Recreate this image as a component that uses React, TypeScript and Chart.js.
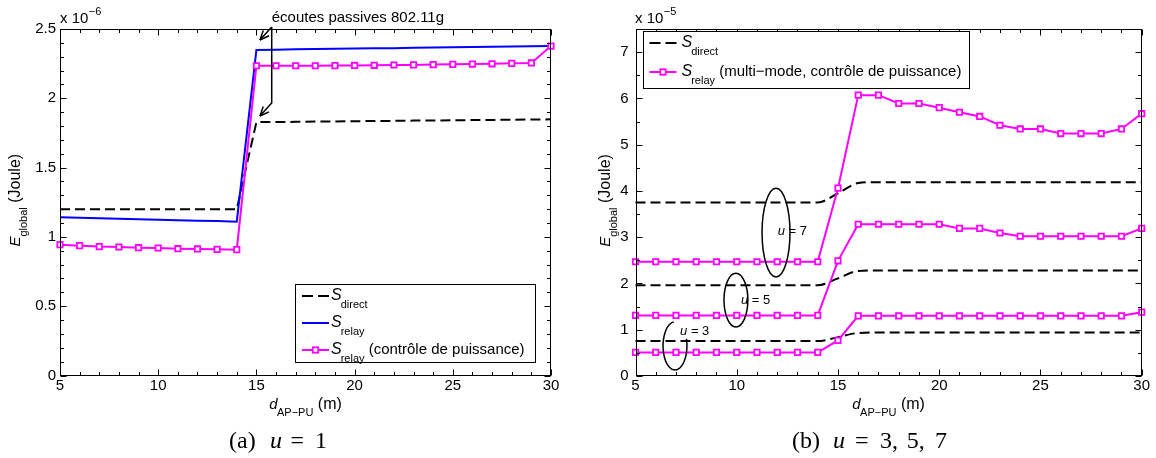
import React, { useEffect, useRef } from 'react';
import { Chart, registerables } from 'chart.js';

Chart.register(...registerables);

const SANS = "'Liberation Sans', Arial, Helvetica, sans-serif";
const SERIF = "'Liberation Serif', 'Times New Roman', serif";

// ---------------- data ----------------
const distances = [5, 6, 7, 8, 9, 10, 11, 12, 13, 14, 15, 16, 17, 18, 19, 20, 21, 22, 23, 24, 25, 26, 27, 28, 29, 30];

// (a) u = 1  (values x 1e-6 J)
const directU1 = [1.2, 1.2, 1.2, 1.2, 1.2, 1.2, 1.2, 1.2, 1.2, 1.2,
  1.828, 1.829, 1.83, 1.832, 1.833, 1.835, 1.836, 1.837, 1.839, 1.84, 1.841, 1.843, 1.844, 1.845, 1.847, 1.848];
const relayU1 = [1.141, 1.138, 1.134, 1.131, 1.127, 1.124, 1.12, 1.117, 1.114, 1.11,
  2.349, 2.351, 2.353, 2.355, 2.357, 2.359, 2.361, 2.362, 2.364, 2.366, 2.368, 2.37, 2.372, 2.373, 2.375, 2.377];
const relayPcU1 = [0.944, 0.937, 0.93, 0.927, 0.922, 0.92, 0.915, 0.913, 0.91, 0.908,
  2.235, 2.235, 2.235, 2.235, 2.236, 2.237, 2.238, 2.24, 2.241, 2.243, 2.245, 2.247, 2.249, 2.252, 2.255, 2.377];

// (b) u = 3, 5, 7  (values x 1e-5 J)
const directU3 = [0.754, 0.754, 0.754, 0.754, 0.754, 0.754, 0.754, 0.754, 0.754, 0.754,
  0.84, 0.93, 0.94, 0.94, 0.94, 0.94, 0.94, 0.94, 0.94, 0.94, 0.94, 0.94, 0.94, 0.94, 0.94, 0.94];
const directU5 = [1.96, 1.96, 1.96, 1.96, 1.96, 1.96, 1.96, 1.96, 1.96, 1.96,
  2.11, 2.27, 2.28, 2.28, 2.28, 2.28, 2.28, 2.28, 2.28, 2.28, 2.28, 2.28, 2.28, 2.28, 2.28, 2.28];
const directU7 = [3.75, 3.75, 3.75, 3.75, 3.75, 3.75, 3.75, 3.75, 3.75, 3.75,
  3.95, 4.17, 4.19, 4.19, 4.19, 4.19, 4.19, 4.19, 4.19, 4.19, 4.19, 4.19, 4.19, 4.19, 4.19, 4.19];
const relayU3 = [0.51, 0.51, 0.51, 0.51, 0.51, 0.51, 0.51, 0.51, 0.51, 0.51,
  0.77, 1.3, 1.3, 1.3, 1.3, 1.3, 1.3, 1.3, 1.3, 1.3, 1.3, 1.3, 1.3, 1.3, 1.3, 1.38];
const relayU5 = [1.31, 1.31, 1.31, 1.31, 1.31, 1.31, 1.31, 1.31, 1.31, 1.31,
  2.49, 3.28, 3.28, 3.28, 3.28, 3.28, 3.19, 3.19, 3.09, 3.02, 3.02, 3.02, 3.02, 3.02, 3.02, 3.19];
const relayU7 = [2.47, 2.47, 2.47, 2.47, 2.47, 2.47, 2.47, 2.47, 2.47, 2.47,
  4.06, 6.07, 6.07, 5.89, 5.89, 5.8, 5.7, 5.61, 5.42, 5.34, 5.34, 5.24, 5.24, 5.24, 5.34, 5.67];

const xTicks = [5, 10, 15, 20, 25, 30];
const xTickLabels = ['5', '10', '15', '20', '25', '30'];
const yTicksA = [0, 0.5, 1, 1.5, 2, 2.5];
const yTickLabelsA = ['0', '0.5', '1', '1.5', '2', '2.5'];
const yTicksB = [0, 1, 2, 3, 4, 5, 6, 7];
const yTickLabelsB = ['0', '1', '2', '3', '4', '5', '6', '7'];

const MAGENTA = '#ff00ff';
const BLUE = '#0000ff';

// ---------------- helpers ----------------
type Part = { t: string; font: string; dy?: number; dx?: number };

function measureParts(ctx: CanvasRenderingContext2D, parts: Part[]) {
  let w = 0;
  for (const p of parts) {
    ctx.font = p.font;
    w += (p.dx || 0) + ctx.measureText(p.t).width;
  }
  return w;
}

function drawParts(ctx: CanvasRenderingContext2D, parts: Part[], x: number, y: number) {
  let cx = x;
  for (const p of parts) {
    ctx.font = p.font;
    cx += p.dx || 0;
    ctx.fillText(p.t, cx, y + (p.dy || 0));
    cx += ctx.measureText(p.t).width;
  }
  return cx;
}

const italic = (s: number) => `italic ${s}px ${SANS}`;
const plain = (s: number) => `${s}px ${SANS}`;

function drawFrame(chart: any, xMinor: number, xMajor: number, yMinor: number, yMajor: number) {
  const { ctx, chartArea: a, scales } = chart;
  const xs = scales.x;
  const ys = scales.y;
  ctx.save();
  ctx.strokeStyle = '#000';
  ctx.lineWidth = 1;
  ctx.setLineDash([]);
  const L = Math.round(a.left) + 0.5;
  const R = Math.round(a.right) - 0.5;
  const T = Math.round(a.top) + 0.5;
  const B = Math.round(a.bottom) - 0.5;
  ctx.strokeRect(L, T, R - L, B - T);
  ctx.beginPath();
  const nx = Math.round((xs.max - xs.min) / xMinor);
  for (let i = 0; i <= nx; i++) {
    const v = xs.min + i * xMinor;
    const r = v / xMajor;
    const major = Math.abs(r - Math.round(r)) < 1e-6;
    const len = major ? 6 : 3.5;
    const px = Math.round(xs.getPixelForValue(v)) + 0.5;
    ctx.moveTo(px, B); ctx.lineTo(px, B - len);
    ctx.moveTo(px, T); ctx.lineTo(px, T + len);
  }
  const ny = Math.round((ys.max - ys.min) / yMinor);
  for (let i = 0; i <= ny; i++) {
    const v = ys.min + i * yMinor;
    const r = v / yMajor;
    const major = Math.abs(r - Math.round(r)) < 1e-6;
    const len = major ? 6 : 3.5;
    const py = Math.round(ys.getPixelForValue(v)) + 0.5;
    ctx.moveTo(L, py); ctx.lineTo(L + len, py);
    ctx.moveTo(R, py); ctx.lineTo(R - len, py);
  }
  ctx.stroke();
  ctx.restore();
}

function drawYTitle(ctx: CanvasRenderingContext2D, xBase: number, yCenter: number) {
  const parts: Part[] = [
    { t: 'E', font: italic(15) },
    { t: 'global', font: plain(11), dy: 7, dx: 0 },
    { t: ' (Joule)', font: plain(16) },
  ];
  ctx.save();
  ctx.translate(xBase, yCenter);
  ctx.rotate(-Math.PI / 2);
  const w = measureParts(ctx, parts);
  drawParts(ctx, parts, -w / 2, 0);
  ctx.restore();
}

function drawXTitle(ctx: CanvasRenderingContext2D, xCenter: number, yBase: number) {
  const parts: Part[] = [
    { t: 'd', font: italic(15) },
    { t: 'AP\u2212PU', font: plain(11), dy: 6.5, dx: -0.5 },
    { t: ' (m)', font: plain(16) },
  ];
  const w = measureParts(ctx, parts);
  drawParts(ctx, parts, xCenter - w / 2, yBase);
}

type LegendEntry = { kind: 'dash' | 'solid' | 'marker'; color: string; sub: string; extra: string };

function drawLegend(ctx: CanvasRenderingContext2D, x: number, y: number, w: number, h: number, rows: number[], entries: LegendEntry[], sx: number) {
  ctx.save();
  ctx.fillStyle = '#fff';
  ctx.fillRect(x, y, w, h);
  ctx.strokeStyle = '#000';
  ctx.lineWidth = 1;
  ctx.strokeRect(Math.round(x) + 0.5, Math.round(y) + 0.5, Math.round(w), Math.round(h));
  entries.forEach((e, i) => {
    const ly = Math.round(y + rows[i]);
    ctx.strokeStyle = e.color;
    ctx.lineWidth = 2;
    ctx.setLineDash(e.kind === 'dash' ? [11, 5] : []);
    ctx.beginPath();
    ctx.moveTo(x + 7, ly);
    ctx.lineTo(x + 34, ly);
    ctx.stroke();
    ctx.setLineDash([]);
    if (e.kind === 'marker') {
      const mx = x + 20.5;
      ctx.fillStyle = '#fff';
      ctx.fillRect(mx - 2.7, ly - 2.7, 5.4, 5.4);
      ctx.lineWidth = 1.8;
      ctx.strokeRect(mx - 2.7, ly - 2.7, 5.4, 5.4);
    }
    ctx.fillStyle = '#000';
    drawParts(ctx, [
      { t: 'S', font: italic(16) },
      { t: e.sub, font: plain(11), dy: 8, dx: -1 },
      { t: e.extra, font: plain(15) },
    ], x + sx, ly + 3.5);
  });
  ctx.restore();
}

function drawArrow(ctx: CanvasRenderingContext2D, pts: [number, number][]) {
  ctx.beginPath();
  ctx.moveTo(pts[0][0], pts[0][1]);
  for (let i = 1; i < pts.length; i++) ctx.lineTo(pts[i][0], pts[i][1]);
  ctx.stroke();
  const [x2, y2] = pts[pts.length - 1];
  const [x1, y1] = pts[pts.length - 2];
  const ang = Math.atan2(y2 - y1, x2 - x1);
  ctx.beginPath();
  for (const s of [-1, 1]) {
    ctx.moveTo(x2, y2);
    ctx.lineTo(x2 - 10 * Math.cos(ang + s * 0.4), y2 - 10 * Math.sin(ang + s * 0.4));
  }
  ctx.stroke();
}

function buildOptions(p: { yWidth: number; xHeight: number; padRight: number; yMax: number; yTicks: number[]; yLabels: string[]; yPad: number }) {
  return {
    responsive: false,
    animation: false as const,
    devicePixelRatio: 1,
    events: [] as any[],
    layout: { padding: { left: 0, right: p.padRight, top: 29, bottom: 0 } },
    plugins: { legend: { display: false }, tooltip: { enabled: false }, title: { display: false } },
    scales: {
      x: {
        type: 'linear' as const,
        min: 5,
        max: 30,
        grid: { display: false, drawTicks: false },
        border: { display: false },
        afterBuildTicks: (s: any) => { s.ticks = xTicks.map((v) => ({ value: v })); },
        afterFit: (s: any) => { s.height = p.xHeight; },
        ticks: {
          color: '#000', padding: 1, maxRotation: 0, autoSkip: false,
          font: { family: SANS, size: 15 },
          callback: (v: any) => xTickLabels[xTicks.indexOf(v)] ?? '',
        },
      },
      y: {
        type: 'linear' as const,
        min: 0,
        max: p.yMax,
        grid: { display: false, drawTicks: false },
        border: { display: false },
        afterBuildTicks: (s: any) => { s.ticks = p.yTicks.map((v) => ({ value: v })); },
        afterFit: (s: any) => { s.width = p.yWidth; },
        ticks: {
          color: '#000', padding: p.yPad,
          font: { family: SANS, size: 15 },
          callback: (v: any) => p.yLabels[p.yTicks.indexOf(v)] ?? '',
        },
      },
    },
  };
}

const pts = (arr: number[]) => distances.map((x, i) => ({ x, y: arr[i] }));

const magentaStyle = {
  borderColor: MAGENTA, backgroundColor: MAGENTA, borderWidth: 2,
  pointStyle: 'rect', pointRadius: 3.8, pointBorderWidth: 1.8,
  pointBackgroundColor: '#fff', pointBorderColor: MAGENTA, tension: 0, clip: false, order: 0,
};
const dashStyle = {
  borderColor: '#000', borderWidth: 2, borderDash: [10, 5], pointRadius: 0, clip: false,
};

function drawCaption(ctx: CanvasRenderingContext2D, pieces: { t: string; x: number; it?: boolean; c?: boolean }[], y: number) {
  for (const p of pieces) {
    ctx.font = `${p.it ? 'italic ' : ''}24px ${SERIF}`;
    ctx.textAlign = p.c ? 'center' : 'left';
    ctx.fillText(p.t, p.x, y);
  }
  ctx.textAlign = 'left';
}

// ---------------- plugins ----------------
const panelAPlugin = {
  id: 'panelA',
  afterDraw(chart: any) {
    const ctx: CanvasRenderingContext2D = chart.ctx;
    const a = chart.chartArea;
    const xs = chart.scales.x;
    const ys = chart.scales.y;
    drawFrame(chart, 1, 5, 0.1, 0.5);
    ctx.save();
    ctx.fillStyle = '#000';
    ctx.strokeStyle = '#000';
    ctx.textAlign = 'left';
    ctx.textBaseline = 'alphabetic';
    drawParts(ctx, [{ t: 'x 10', font: plain(15) }, { t: '\u22126', font: plain(11), dy: -8, dx: 0.5 }], a.left, a.top - 6);
    drawYTitle(ctx, 20, (a.top + a.bottom) / 2 - 2);
    drawXTitle(ctx, (a.left + a.right) / 2, 409);
    // annotation "écoutes passives 802.11g"
    const ax = xs.getPixelForValue(15.78);
    const tipX = xs.getPixelForValue(15.18);
    const topY = a.top - 2;
    ctx.font = plain(15);
    ctx.fillText('écoutes passives 802.11g', ax, a.top - 7);
    ctx.lineWidth = 1.5;
    drawArrow(ctx, [[ax, topY], [tipX, ys.getPixelForValue(2.421)]]);
    drawArrow(ctx, [[ax, topY], [ax, ys.getPixelForValue(1.966)], [tipX, ys.getPixelForValue(1.872)]]);
    drawLegend(ctx, a.right - 256, a.bottom - 92, 240, 78, [12, 39, 66], [
      { kind: 'dash', color: '#000', sub: 'direct', extra: '' },
      { kind: 'solid', color: BLUE, sub: 'relay', extra: '' },
      { kind: 'marker', color: MAGENTA, sub: 'relay', extra: ' (contrôle de puissance)' },
    ], 36);
    ctx.fillStyle = '#000';
    drawCaption(ctx, [
      { t: '(a)', x: 229 },
      { t: 'u', x: 270, it: true },
      { t: '=', x: 297.3, c: true },
      { t: '1', x: 315 },
    ], 448);
    ctx.restore();
  },
};

const ellipses = [
  { u: '3', cx: 6.95, cy: 0.65, rx: 0.59, ry: 0.52, tx: 7.2, ty: 0.89, gap: true },
  { u: '5', cx: 9.96, cy: 1.64, rx: 0.59, ry: 0.58, tx: 10.21, ty: 1.55, gap: false },
  { u: '7', cx: 11.94, cy: 3.1, rx: 0.69, ry: 0.96, tx: 12.02, ty: 3.04, gap: false },
];

const panelBPlugin = {
  id: 'panelB',
  afterDraw(chart: any) {
    const ctx: CanvasRenderingContext2D = chart.ctx;
    const a = chart.chartArea;
    const xs = chart.scales.x;
    const ys = chart.scales.y;
    drawFrame(chart, 1, 5, 0.5, 1);
    ctx.save();
    ctx.fillStyle = '#000';
    ctx.strokeStyle = '#000';
    ctx.textAlign = 'left';
    ctx.textBaseline = 'alphabetic';
    drawParts(ctx, [{ t: 'x 10', font: plain(15) }, { t: '\u22125', font: plain(11), dy: -8, dx: 0.5 }], a.left - 0.5, a.top - 6);
    drawYTitle(ctx, 32, (a.top + a.bottom) / 2 - 2);
    drawXTitle(ctx, (a.left + a.right) / 2, 409);
    ctx.lineWidth = 1.5;
    for (const e of ellipses) {
      const cx = xs.getPixelForValue(e.cx);
      const cy = ys.getPixelForValue(e.cy);
      const rx = Math.abs(xs.getPixelForValue(e.cx + e.rx) - cx);
      const ry = Math.abs(ys.getPixelForValue(e.cy + e.ry) - cy);
      ctx.beginPath();
      if (e.gap) ctx.ellipse(cx, cy, rx, ry, 0, -0.3, Math.PI * 1.5 - 0.1);
      else ctx.ellipse(cx, cy, rx, ry, 0, 0, Math.PI * 2);
      ctx.stroke();
      drawParts(ctx, [{ t: 'u', font: italic(13) }, { t: ' = ' + e.u, font: plain(13) }], xs.getPixelForValue(e.tx), ys.getPixelForValue(e.ty));
    }
    drawLegend(ctx, a.left + 7, a.top + 2, 326, 57, [12.3, 40.6], [
      { kind: 'dash', color: '#000', sub: 'direct', extra: '' },
      { kind: 'marker', color: MAGENTA, sub: 'relay', extra: ' (multi\u2212mode, contrôle de puissance)' },
    ], 39);
    ctx.fillStyle = '#000';
    drawCaption(ctx, [
      { t: '(b)', x: 214 },
      { t: 'u', x: 255, it: true },
      { t: '=', x: 283.7, c: true },
      { t: '3,', x: 302 },
      { t: '5,', x: 328.7 },
      { t: '7', x: 357 },
    ], 448);
    ctx.restore();
  },
};

export default function App() {
  const refA = useRef<HTMLCanvasElement>(null);
  const refB = useRef<HTMLCanvasElement>(null);

  useEffect(() => {
    const chartA = new Chart(refA.current as HTMLCanvasElement, {
      type: 'line',
      data: {
        datasets: [
          { label: 'S_relay (contrôle de puissance)', data: pts(relayPcU1), ...magentaStyle } as any,
          { label: 'S_relay', data: pts(relayU1), borderColor: BLUE, borderWidth: 2, pointRadius: 0, tension: 0, order: 1, clip: false } as any,
          { label: 'S_direct', data: pts(directU1), ...dashStyle, tension: 0, order: 2 } as any,
        ],
      },
      options: buildOptions({ yWidth: 60, xHeight: 82.5, padRight: 27, yMax: 2.5, yTicks: yTicksA, yLabels: yTickLabelsA, yPad: 4 }) as any,
      plugins: [panelAPlugin],
    });

    const chartB = new Chart(refB.current as HTMLCanvasElement, {
      type: 'line',
      data: {
        datasets: [
          { label: 'S_relay u=7', data: pts(relayU7), ...magentaStyle } as any,
          { label: 'S_relay u=5', data: pts(relayU5), ...magentaStyle } as any,
          { label: 'S_relay u=3', data: pts(relayU3), ...magentaStyle } as any,
          { label: 'S_direct u=7', data: pts(directU7), ...dashStyle, cubicInterpolationMode: 'monotone', order: 1 } as any,
          { label: 'S_direct u=5', data: pts(directU5), ...dashStyle, cubicInterpolationMode: 'monotone', order: 1 } as any,
          { label: 'S_direct u=3', data: pts(directU3), ...dashStyle, cubicInterpolationMode: 'monotone', order: 1 } as any,
        ],
      },
      options: buildOptions({ yWidth: 57.5, xHeight: 82, padRight: 14.3, yMax: 7.5, yTicks: yTicksB, yLabels: yTickLabelsB, yPad: 7 }) as any,
      plugins: [panelBPlugin],
    });

    return () => {
      chartA.destroy();
      chartB.destroy();
    };
  }, []);

  return (
    <div style={{ position: 'fixed', left: 0, top: 0, width: 1156, height: 458, background: '#fff' }}>
      <canvas ref={refA} width={578} height={458} style={{ position: 'absolute', left: 0, top: 0, width: 578, height: 458 }} />
      <canvas ref={refB} width={578} height={458} style={{ position: 'absolute', left: 578, top: 0, width: 578, height: 458 }} />
    </div>
  );
}
